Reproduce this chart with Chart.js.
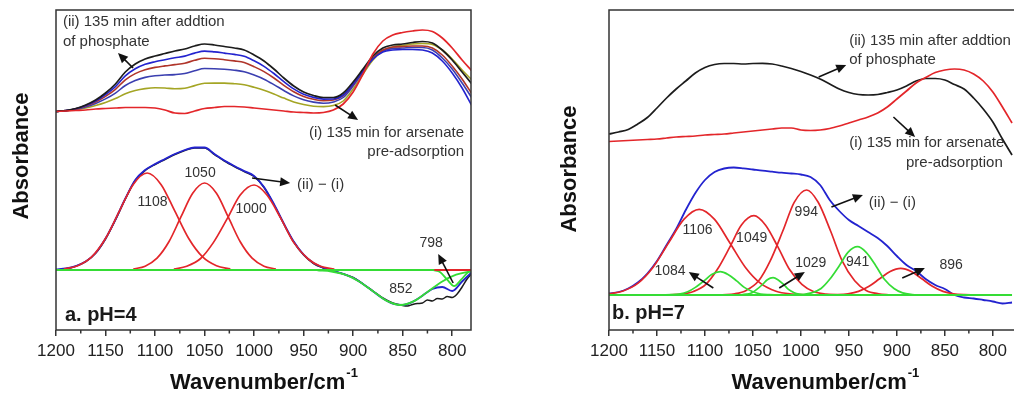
<!DOCTYPE html>
<html>
<head>
<meta charset="utf-8">
<script src="https://cdn.jsdelivr.net/npm/chart.js@4.4.1/dist/chart.umd.min.js"></script>
<style>
  html, body { margin: 0; padding: 0; background: #fff; }
  body { width: 1014px; height: 394px; overflow: hidden; position: relative; }
  canvas { position: absolute; top: 0; }
  #chart-a { left: 0; }
  #chart-b { left: 540px; }
</style>
</head>
<body>
<canvas id="chart-a" width="500" height="394"></canvas>
<canvas id="chart-b" width="520" height="394"></canvas>
<script>
// wavenumber axis (cm-1)
const tickWn = [1200, 1150, 1100, 1050, 1000, 950, 900, 850, 800, 750];
const minorWn = [1175, 1125, 1075, 1025, 975, 925, 875, 825, 775];
const waveGrid = [1200, 1190, 1180, 1170, 1160, 1150, 1140, 1130, 1120, 1110,
  1100, 1090, 1080, 1070, 1060, 1050, 1040, 1030, 1020, 1010,
  1000, 990, 980, 970, 960, 950, 940, 930, 920, 910,
  900, 890, 880, 870, 860, 850, 840, 830, 820, 810,
  800, 790, 780];
const baseWn = [1200, 780];
const baseAbs = [0, 0];

// ---- a. pH=4, time series after phosphate addition ----
const aArsenate = [1.585, 1.59, 1.595, 1.60, 1.61, 1.615, 1.62, 1.625, 1.625, 1.625,
  1.62, 1.60, 1.57, 1.565, 1.59, 1.615, 1.625, 1.635, 1.635, 1.63,
  1.62, 1.61, 1.60, 1.59, 1.58, 1.575, 1.57, 1.575, 1.60, 1.66,
  1.78, 1.96, 2.16, 2.29, 2.35, 2.375, 2.39, 2.40, 2.385, 2.32,
  2.22, 2.10, 1.99];
const aPhos1 = [1.585, 1.592, 1.603, 1.62, 1.645, 1.675, 1.714, 1.763, 1.795, 1.814,
  1.823, 1.82, 1.812, 1.817, 1.844, 1.867, 1.869, 1.869, 1.863, 1.852,
  1.827, 1.797, 1.76, 1.719, 1.681, 1.655, 1.638, 1.634, 1.645, 1.69,
  1.81, 1.96, 2.10, 2.19, 2.23, 2.245, 2.26, 2.265, 2.255, 2.20,
  2.11, 2.00, 1.90];
const aPhos2 = [1.585, 1.593, 1.607, 1.631, 1.666, 1.711, 1.769, 1.845, 1.895, 1.926,
  1.942, 1.95, 1.954, 1.965, 1.993, 2.015, 2.013, 2.007, 1.998, 1.983,
  1.949, 1.908, 1.854, 1.795, 1.741, 1.702, 1.679, 1.668, 1.68, 1.725,
  1.84, 1.98, 2.11, 2.19, 2.215, 2.22, 2.225, 2.225, 2.20, 2.12,
  2.01, 1.87, 1.72];
const aPhos3 = [1.585, 1.594, 1.611, 1.639, 1.68, 1.736, 1.807, 1.902, 1.964, 2.003,
  2.026, 2.041, 2.054, 2.068, 2.097, 2.118, 2.113, 2.103, 2.091, 2.075,
  2.033, 1.984, 1.92, 1.847, 1.783, 1.735, 1.707, 1.692, 1.70, 1.745,
  1.855, 1.99, 2.12, 2.20, 2.23, 2.235, 2.24, 2.24, 2.22, 2.15,
  2.04, 1.91, 1.76];
const aPhos4 = [1.585, 1.594, 1.613, 1.645, 1.69, 1.753, 1.834, 1.941, 2.012, 2.057,
  2.083, 2.103, 2.122, 2.139, 2.169, 2.189, 2.181, 2.169, 2.156, 2.137,
  2.092, 2.037, 1.965, 1.884, 1.811, 1.757, 1.726, 1.709, 1.71, 1.75,
  1.86, 1.99, 2.11, 2.18, 2.20, 2.205, 2.205, 2.20, 2.17, 2.09,
  1.97, 1.82, 1.64];
const aPhos5 = [1.585, 1.595, 1.615, 1.65, 1.70, 1.77, 1.86, 1.98, 2.06, 2.11,
  2.14, 2.165, 2.19, 2.21, 2.24, 2.26, 2.25, 2.235, 2.22, 2.20,
  2.15, 2.09, 2.01, 1.92, 1.84, 1.78, 1.745, 1.725, 1.725, 1.77,
  1.88, 2.01, 2.14, 2.22, 2.25, 2.26, 2.275, 2.285, 2.27, 2.20,
  2.10, 1.98, 1.86];

// difference spectrum (ii) - (i) and its fit
const aFit = [0.005, 0.015, 0.04, 0.085, 0.17, 0.315, 0.505, 0.715, 0.90, 1.00,
  1.06, 1.11, 1.16, 1.20, 1.225, 1.225, 1.16, 1.095, 1.04, 0.99,
  0.94, 0.83, 0.66, 0.465, 0.285, 0.155, 0.07, 0.022, -0.008, -0.038,
  -0.079, -0.139, -0.212, -0.285, -0.336, -0.35, -0.319, -0.257, -0.19, -0.17,
  -0.21, -0.115, -0.02];
const aDiffWn = [1200, 1190, 1180, 1170, 1160, 1150, 1140, 1130, 1120, 1110,
  1100, 1090, 1080, 1070, 1060, 1050, 1040, 1030, 1020, 1010,
  1000, 990, 980, 970, 960, 950, 940, 930, 920, 910,
  900, 890, 880, 870, 860, 850, 845, 840, 835, 830,
  825, 820, 815, 810, 805, 800, 795, 790, 785, 780];
const aDiffAbs = [0, 0.012, 0.038, 0.083, 0.168, 0.31, 0.50, 0.71, 0.895, 0.995,
  1.055, 1.105, 1.155, 1.195, 1.22, 1.22, 1.155, 1.09, 1.035, 0.985,
  0.935, 0.825, 0.655, 0.46, 0.28, 0.15, 0.065, 0.02, -0.012, -0.04,
  -0.075, -0.14, -0.21, -0.28, -0.33, -0.355, -0.36, -0.345, -0.335, -0.33,
  -0.30, -0.31, -0.285, -0.29, -0.265, -0.275, -0.24, -0.17, -0.09, -0.03];

// fitted components, pH=4
const aPeakCenters = [1108, 1050, 1000];
const aP1108Wn = [1192, 1178, 1164, 1150, 1136, 1122, 1108, 1094, 1080, 1066, 1052, 1038, 1024];
const aP1108Abs = [0.011, 0.043, 0.131, 0.315, 0.588, 0.856, 0.97, 0.856, 0.588, 0.315, 0.131, 0.043, 0.011];
const aP1050Wn = [1122, 1110, 1098, 1086, 1074, 1062, 1050, 1038, 1026, 1014, 1002, 990, 978];
const aP1050Abs = [0.01, 0.038, 0.118, 0.282, 0.528, 0.768, 0.87, 0.768, 0.528, 0.282, 0.118, 0.038, 0.01];
const aP1000Wn = [1081, 1068, 1054, 1041, 1027, 1014, 1000, 987, 973, 960, 946, 933, 919];
const aP1000Abs = [0.009, 0.037, 0.115, 0.276, 0.516, 0.75, 0.85, 0.75, 0.516, 0.276, 0.115, 0.037, 0.009];
const aNegCenters = [852, 798];
const aP852Wn = [936, 922, 908, 894, 880, 866, 852, 838, 824, 810, 796, 782];
const aP852Abs = [-0.004, -0.015, -0.047, -0.114, -0.212, -0.309, -0.35, -0.309, -0.212, -0.114, -0.047, -0.015];
const aP798Wn = [819, 812, 805, 798, 791, 784, 781];
const aP798Abs = [-0.002, -0.022, -0.097, -0.16, -0.097, -0.022, -0.008];
const aRedBaseWn = [818, 780];
const aRedBaseAbs = [0, 0];

// ---- b. pH=7 ----
const bArsenate = [1.535, 1.54, 1.545, 1.55, 1.555, 1.56, 1.57, 1.58, 1.585, 1.59,
  1.60, 1.605, 1.61, 1.62, 1.63, 1.64, 1.65, 1.66, 1.67, 1.67,
  1.65, 1.645, 1.65, 1.665, 1.69, 1.72, 1.75, 1.78, 1.82, 1.88,
  1.96, 2.04, 2.12, 2.175, 2.225, 2.25, 2.26, 2.25, 2.21, 2.14,
  2.03, 1.88, 1.72];
const bPhos = [1.61, 1.63, 1.655, 1.71, 1.775, 1.87, 1.97, 2.06, 2.14, 2.22,
  2.275, 2.305, 2.315, 2.315, 2.31, 2.315, 2.317, 2.31, 2.29, 2.265,
  2.235, 2.20, 2.16, 2.11, 2.06, 2.025, 2.005, 2.00, 2.005, 2.025,
  2.05, 2.09, 2.14, 2.165, 2.165, 2.15, 2.105, 2.06, 1.97, 1.86,
  1.73, 1.56, 1.40];
const bDiff = [0.015, 0.03, 0.065, 0.125, 0.215, 0.34, 0.50, 0.66, 0.85, 1.02,
  1.15, 1.23, 1.265, 1.275, 1.267, 1.255, 1.243, 1.233, 1.223, 1.215,
  1.205, 1.18, 1.10, 0.95, 0.84, 0.75, 0.69, 0.63, 0.57, 0.49,
  0.39, 0.30, 0.24, 0.16, 0.10, 0.06, 0, -0.025, -0.035, -0.05,
  -0.065, -0.085, -0.075];

const bRedCenters = [1106, 1049, 994, 896];
const bP1106Wn = [1200, 1186, 1170, 1154, 1138, 1122, 1106, 1090, 1074, 1058, 1042, 1026, 1010, 994];
const bP1106Abs = [0.011, 0.038, 0.116, 0.278, 0.52, 0.756, 0.857, 0.756, 0.52, 0.278, 0.116, 0.038, 0.01, 0.002];
const bP1049Wn = [1137, 1124, 1112, 1099, 1087, 1074, 1062, 1049, 1037, 1024, 1012, 999, 987, 974, 962];
const bP1049Abs = [0.002, 0.009, 0.035, 0.107, 0.257, 0.481, 0.70, 0.793, 0.70, 0.481, 0.257, 0.107, 0.035, 0.009, 0.002];
const bP994Wn = [1082, 1069, 1057, 1044, 1032, 1019, 1007, 994, 982, 969, 957, 944, 932, 919, 907];
const bP994Abs = [0.002, 0.012, 0.046, 0.142, 0.341, 0.637, 0.927, 1.05, 0.927, 0.637, 0.341, 0.142, 0.046, 0.012, 0.002];
const bP896Wn = [973, 962, 951, 940, 929, 918, 907, 896, 885, 874, 863, 852, 841, 830, 819];
const bP896Abs = [0.001, 0.003, 0.012, 0.036, 0.087, 0.162, 0.236, 0.267, 0.236, 0.162, 0.087, 0.036, 0.012, 0.003, 0.001];

const bGreenCenters = [1084, 1029, 941];
const bP1084Wn = [1144, 1135, 1127, 1118, 1110, 1101, 1093, 1084, 1076, 1067, 1059, 1050, 1042, 1033, 1025];
const bP1084Abs = [0.0005, 0.003, 0.01, 0.032, 0.076, 0.141, 0.206, 0.233, 0.206, 0.141, 0.076, 0.032, 0.01, 0.003, 0.0005];
const bP1029Wn = [1068, 1062, 1057, 1051, 1046, 1040, 1035, 1029, 1024, 1018, 1013, 1007, 1002, 996, 991];
const bP1029Abs = [0.0004, 0.002, 0.008, 0.023, 0.056, 0.105, 0.153, 0.173, 0.153, 0.105, 0.056, 0.023, 0.008, 0.002, 0.0004];
const bP941Wn = [1008, 998, 989, 979, 970, 960, 951, 941, 932, 922, 913, 903, 894, 884, 875];
const bP941Abs = [0.001, 0.005, 0.021, 0.065, 0.157, 0.293, 0.426, 0.483, 0.426, 0.293, 0.157, 0.065, 0.021, 0.005, 0.001];

const family = '"Liberation Sans", Arial, sans-serif';
const RED = '#e3262a';
const GREEN = '#35dc35';
const BLUE = '#2323cf';
const BLACK = '#1c1c1c';

function line(wn, abs, color, width) {
  return {
    data: wn.map((w, i) => ({ x: w, y: abs[i] })),
    borderColor: color,
    borderWidth: width || 1.7,
    fill: false,
    pointRadius: 0
  };
}

function drawArrow(ctx, x0, y0, x1, y1) {
  const ang = Math.atan2(y1 - y0, x1 - x0);
  const len = 10, half = 4.5;
  ctx.beginPath();
  ctx.moveTo(x0, y0);
  ctx.lineTo(x1 - Math.cos(ang) * len * 0.8, y1 - Math.sin(ang) * len * 0.8);
  ctx.stroke();
  ctx.beginPath();
  ctx.moveTo(x1, y1);
  ctx.lineTo(x1 - Math.cos(ang) * len - Math.sin(ang) * half, y1 - Math.sin(ang) * len + Math.cos(ang) * half);
  ctx.lineTo(x1 - Math.cos(ang) * len + Math.sin(ang) * half, y1 - Math.sin(ang) * len - Math.cos(ang) * half);
  ctx.closePath();
  ctx.fill();
}

// frame, minor ticks, axis titles and the text/arrow notes of one panel
function decor(cfg) {
  return {
    id: 'decor',
    afterDraw(chart) {
      const { ctx, chartArea: area, scales: { x, y } } = chart;
      ctx.save();
      ctx.strokeStyle = '#333';
      ctx.lineWidth = 1.5;
      ctx.strokeRect(area.left, area.top, area.right - area.left, area.bottom - area.top);
      ctx.beginPath();
      minorWn.filter(w => w >= x.min).forEach(w => {
        const px = x.getPixelForValue(w);
        ctx.moveTo(px, area.bottom);
        ctx.lineTo(px, area.bottom + 3.5);
      });
      ctx.stroke();

      // x title with superscript
      ctx.fillStyle = '#111';
      ctx.textBaseline = 'alphabetic';
      ctx.font = `bold 22px ${family}`;
      const main = 'Wavenumber/cm';
      const wMain = ctx.measureText(main).width;
      ctx.font = `bold 13px ${family}`;
      const wSup = ctx.measureText('-1').width;
      const x0 = (area.left + area.right) / 2 - (wMain + wSup) / 2;
      ctx.font = `bold 22px ${family}`;
      ctx.textAlign = 'left';
      ctx.fillText(main, x0, 389);
      ctx.font = `bold 13px ${family}`;
      ctx.fillText('-1', x0 + wMain + 1, 377);

      // y title
      ctx.save();
      ctx.translate(area.left - cfg.yTitleGap, cfg.yTitleMid);
      ctx.rotate(-Math.PI / 2);
      ctx.font = `bold 22px ${family}`;
      ctx.textAlign = 'center';
      ctx.textBaseline = 'middle';
      ctx.fillText('Absorbance', 0, 0);
      ctx.restore();

      ctx.textBaseline = 'middle';
      cfg.notes.forEach(n => {
        ctx.font = `${n.bold ? 'bold ' : ''}${n.size || 15}px ${family}`;
        ctx.fillStyle = n.bold ? '#1a1a1a' : '#333';
        ctx.textAlign = n.align || 'center';
        ctx.fillText(n.text, x.getPixelForValue(n.wn), y.getPixelForValue(n.abs));
      });

      ctx.strokeStyle = '#111';
      ctx.fillStyle = '#111';
      ctx.lineWidth = 1.6;
      cfg.arrows.forEach(a => drawArrow(ctx,
        x.getPixelForValue(a[0]), y.getPixelForValue(a[1]),
        x.getPixelForValue(a[2]), y.getPixelForValue(a[3])));
      ctx.restore();
    }
  };
}

function panel(id, cfg) {
  return new Chart(document.getElementById(id), {
    type: 'line',
    data: { datasets: cfg.datasets },
    options: {
      responsive: false,
      animation: false,
      devicePixelRatio: 1,
      layout: { padding: { left: cfg.padLeft, right: cfg.padRight, top: 10, bottom: 0 } },
      plugins: { legend: { display: false }, tooltip: { enabled: false } },
      elements: { line: { cubicInterpolationMode: 'monotone' }, point: { radius: 0 } },
      scales: {
        x: {
          type: 'linear',
          reverse: true,
          min: cfg.xMin,
          max: 1200,
          afterBuildTicks: s => { s.ticks = tickWn.filter(w => w >= cfg.xMin).map(w => ({ value: w })); },
          afterFit: s => { s.height = 64; },
          ticks: {
            autoSkip: false,
            maxRotation: 0,
            padding: 5,
            color: '#222',
            font: { family: family, size: 17 },
            callback: v => String(v)
          },
          grid: { drawOnChartArea: false, drawTicks: true, tickLength: 6, color: '#333', lineWidth: 1.5 },
          border: { display: false }
        },
        y: { display: false, min: cfg.yMin, max: cfg.yMax }
      }
    },
    plugins: [decor(cfg)]
  });
}

// datasets are listed top-most first
panel('chart-a', {
  xMin: 781, yMin: -0.6, yMax: 2.6, padLeft: 56, padRight: 29,
  yTitleGap: 34, yTitleMid: 156,
  datasets: [
    line(aRedBaseWn, aRedBaseAbs, RED, 2),
    line(baseWn, baseAbs, GREEN, 2.2),
    line(aP798Wn, aP798Abs, GREEN, 1.8),
    line(aP852Wn, aP852Abs, GREEN, 1.8),
    line(aP1108Wn, aP1108Abs, RED, 1.7),
    line(aP1050Wn, aP1050Abs, RED, 1.7),
    line(aP1000Wn, aP1000Abs, RED, 1.7),
    line(waveGrid, aFit, BLUE, 1.8),
    line(aDiffWn, aDiffAbs, BLACK, 1.5),
    line(waveGrid, aArsenate, RED, 1.7),
    line(waveGrid, aPhos5, BLACK, 1.7),
    line(waveGrid, aPhos4, BLUE, 1.6),
    line(waveGrid, aPhos3, '#b0352a', 1.6),
    line(waveGrid, aPhos2, '#3b3fb0', 1.6),
    line(waveGrid, aPhos1, '#a4a524', 1.6)
  ],
  notes: [
    { text: '(ii) 135 min after addtion', wn: 1193, abs: 2.48, align: 'left' },
    { text: 'of phosphate', wn: 1193, abs: 2.28, align: 'left' },
    { text: '(i) 135 min for arsenate', wn: 788, abs: 1.37, align: 'right' },
    { text: 'pre-adsorption', wn: 788, abs: 1.18, align: 'right' },
    { text: '(ii) \u2212 (i)', wn: 956.6, abs: 0.85, align: 'left' },
    { text: String(aPeakCenters[0]), wn: 1102.5, abs: 0.683, size: 14 },
    { text: String(aPeakCenters[1]), wn: 1054.5, abs: 0.967, size: 14 },
    { text: String(aPeakCenters[2]), wn: 1003, abs: 0.607, size: 14 },
    { text: String(aNegCenters[0]), wn: 851.7, abs: -0.193, size: 14 },
    { text: String(aNegCenters[1]), wn: 821.2, abs: 0.267, size: 14 },
    { text: 'a. pH=4', wn: 1191, abs: -0.45, align: 'left', bold: true, size: 20 }
  ],
  arrows: [
    [1122.2, 2.02, 1137.4, 2.17],
    [918.2, 1.65, 895, 1.50],
    [1002, 0.92, 963.6, 0.87],
    [799, -0.13, 814.1, 0.16]
  ]
});

panel('chart-b', {
  xMin: 750, yMin: -0.35, yMax: 2.85, padLeft: 69, padRight: 12.25,
  yTitleGap: 39, yTitleMid: 169,
  datasets: [
    line(baseWn, baseAbs, GREEN, 2.2),
    line(bP1084Wn, bP1084Abs, GREEN, 1.7),
    line(bP1029Wn, bP1029Abs, GREEN, 1.7),
    line(bP941Wn, bP941Abs, GREEN, 1.7),
    line(bP1106Wn, bP1106Abs, RED, 1.7),
    line(bP1049Wn, bP1049Abs, RED, 1.7),
    line(bP994Wn, bP994Abs, RED, 1.7),
    line(bP896Wn, bP896Abs, RED, 1.7),
    line(waveGrid, bDiff, BLUE, 1.8),
    line(waveGrid, bArsenate, RED, 1.7),
    line(waveGrid, bPhos, BLACK, 1.7)
  ],
  notes: [
    { text: '(ii) 135 min after addtion', wn: 949.7, abs: 2.54, align: 'left' },
    { text: 'of phosphate', wn: 949.7, abs: 2.35, align: 'left' },
    { text: '(i) 135 min for arsenate', wn: 949.7, abs: 1.52, align: 'left' },
    { text: 'pre-adsorption', wn: 789.7, abs: 1.32, align: 'right' },
    { text: '(ii) \u2212 (i)', wn: 929.2, abs: 0.92, align: 'left' },
    { text: String(bRedCenters[0]), wn: 1107.7, abs: 0.65, size: 14 },
    { text: String(bRedCenters[1]), wn: 1051.3, abs: 0.567, size: 14 },
    { text: String(bRedCenters[2]), wn: 994.4, abs: 0.833, size: 14 },
    { text: String(bRedCenters[3]), wn: 843.4, abs: 0.30, size: 14 },
    { text: String(bGreenCenters[0]), wn: 1136.4, abs: 0.243, size: 14 },
    { text: String(bGreenCenters[1]), wn: 989.7, abs: 0.317, size: 14 },
    { text: String(bGreenCenters[2]), wn: 940.8, abs: 0.333, size: 14 },
    { text: 'b. pH=7', wn: 1196.9, abs: -0.18, align: 'left', bold: true, size: 20 }
  ],
  arrows: [
    [981.5, 2.18, 952.8, 2.30],
    [903.6, 1.78, 881, 1.58],
    [968.2, 0.88, 935.4, 1.0],
    [1091.3, 0.07, 1116.9, 0.23],
    [1022.6, 0.07, 995.9, 0.23],
    [894.4, 0.17, 870.8, 0.27]
  ]
});
</script>
</body>
</html>
